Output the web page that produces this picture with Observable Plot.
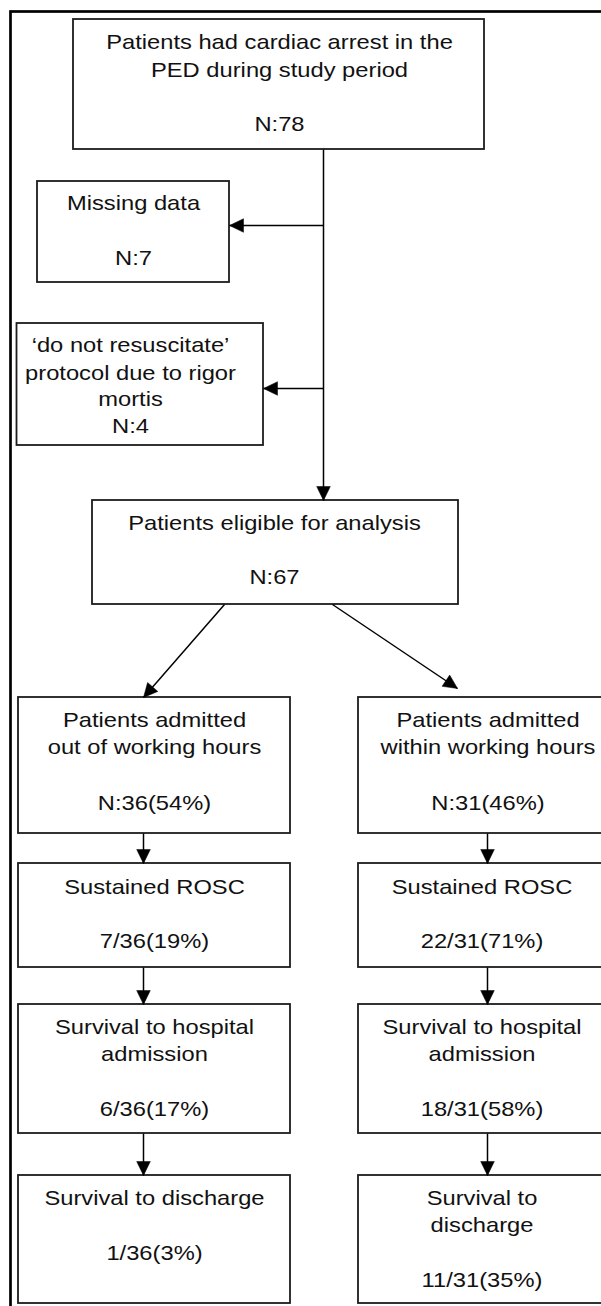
<!DOCTYPE html>
<html>
<head>
<meta charset="utf-8">
<script src="https://cdn.jsdelivr.net/npm/d3@7"></script>
<script src="https://cdn.jsdelivr.net/npm/@observablehq/plot@0.6"></script>
<style>
  html, body { margin: 0; padding: 0; background: #fff; overflow: hidden; width: 601px; height: 1306px; }
  #chart svg { display: block; overflow: hidden; }
</style>
</head>
<body>
<div id="chart"></div>
<script>
// ---- data: flowchart nodes and their values ----
const nodeIds = ["all", "missing", "dnr", "eligible", "out1", "out2", "out3", "out4", "in1", "in2", "in3", "in4"];
const nodeTitles = [
  "Patients had cardiac arrest in the\nPED during study period",
  "Missing data",
  "\u2018do not resuscitate\u2019\nprotocol due to rigor\nmortis",
  "Patients eligible for analysis",
  "Patients admitted\nout of working hours",
  "Sustained ROSC",
  "Survival to hospital\nadmission",
  "Survival to discharge",
  "Patients admitted\nwithin working hours",
  "Sustained ROSC",
  "Survival to hospital\nadmission",
  "Survival to\ndischarge"
];
const nodeCounts = ["N:78", "N:7", "N:4", "N:67", "N:36(54%)", "7/36(19%)", "6/36(17%)", "1/36(3%)", "N:31(46%)", "22/31(71%)", "18/31(58%)", "11/31(35%)"];
const edgeFrom = ["all", "all", "all", "eligible", "eligible", "out1", "out2", "out3", "in1", "in2", "in3"];
const edgeTo   = ["eligible", "missing", "dnr", "out1", "in1", "out2", "out3", "out4", "in2", "in3", "in4"];

// ---- layout (page geometry, kept apart from the data) ----
const layout = {
  all:      {x1: 73,   x2: 484, y1: 19,   y2: 149,  tx: 279,   ty: [41.7, 69.5, 124]},
  missing:  {x1: 37,   x2: 229, y1: 181,  y2: 282,  tx: 133,   ty: [203, 258]},
  dnr:      {x1: 16.5, x2: 263, y1: 323,  y2: 445,  tx: 130,   ty: [345, 372.7, 399, 426]},
  eligible: {x1: 92,   x2: 458, y1: 500,  y2: 604,  tx: 274,   ty: [522.5, 577]},
  out1:     {x1: 18,   x2: 290, y1: 697,  y2: 833,  tx: 154,   ty: [719.5, 746.7, 802.8]},
  out2:     {x1: 18,   x2: 290, y1: 863,  y2: 967,  tx: 154,   ty: [886.5, 940.8]},
  out3:     {x1: 18,   x2: 290, y1: 1004, y2: 1133, tx: 154,   ty: [1026.5, 1053.5, 1109]},
  out4:     {x1: 18,   x2: 290, y1: 1175, y2: 1303, tx: 154,   ty: [1197.5, 1252.5]},
  in1:      {x1: 358,  x2: 617, y1: 697,  y2: 833,  tx: 487.5, ty: [719.5, 746.7, 802.8]},
  in2:      {x1: 358,  x2: 617, y1: 863,  y2: 967,  tx: 481.5, ty: [886.5, 940.8]},
  in3:      {x1: 358,  x2: 617, y1: 1004, y2: 1133, tx: 481.5, ty: [1026.5, 1053.5, 1109]},
  in4:      {x1: 358,  x2: 617, y1: 1175, y2: 1303, tx: 481.5, ty: [1197.5, 1225, 1280]}
};
// connector start point and arrow tip for each edge (same order as edgeFrom/edgeTo)
const edgeLayout = [
  {sx: 323, sy: 149, tx: 323, ty: 500},
  {sx: 323, sy: 225, tx: 229, ty: 225},
  {sx: 323, sy: 388, tx: 263, ty: 388},
  {sx: 224, sy: 604, tx: 143, ty: 697},
  {sx: 332, sy: 604, tx: 457, ty: 688},
  {sx: 143, sy: 833, tx: 143, ty: 863},
  {sx: 143, sy: 967, tx: 143, ty: 1004},
  {sx: 143, sy: 1133, tx: 143, ty: 1175},
  {sx: 487, sy: 833, tx: 487, ty: 863},
  {sx: 487, sy: 967, tx: 487, ty: 1004},
  {sx: 487, sy: 1133, tx: 487, ty: 1175}
];
const frame = [{x1: 10.5, y1: 11.5, x2: 640, y2: 1340}];
const TEXT_STRETCH = 1.13;

// ---- build tables for the marks ----
const boxes = nodeIds.map((id, i) => ({id, ...layout[id]}));
const textLines = [];
nodeIds.forEach((id, i) => {
  const lines = nodeTitles[i].split("\n").concat([nodeCounts[i]]);
  lines.forEach((t, j) => textLines.push({text: t, x: layout[id].tx, y: layout[id].ty[j]}));
});
const edges = edgeFrom.map((f, i) => ({from: f, to: edgeTo[i], ...edgeLayout[i]}));

function headSymbol(dx, dy) {
  const len = Math.hypot(dx, dy), ux = dx / len, uy = dy / len;
  const L = 14, W = 6.8;
  return {
    draw(ctx) {
      ctx.moveTo(0, 0);
      ctx.lineTo(-L * ux - W * uy, -L * uy + W * ux);
      ctx.lineTo(-L * ux + W * uy, -L * uy - W * ux);
      ctx.closePath();
    }
  };
}

const marks = [
  Plot.rect(frame, {x1: "x1", x2: "x2", y1: "y1", y2: "y2", fill: "none", stroke: "#000", strokeWidth: 2.7}),
  Plot.rect(boxes, {x1: "x1", x2: "x2", y1: "y1", y2: "y2", fill: "#fff", stroke: "#1c1c1c", strokeWidth: 1.8}),
  Plot.link(edges, {x1: "sx", y1: "sy", x2: "tx", y2: "ty", stroke: "#000", strokeWidth: 1.5}),
  ...edges.map(e => Plot.dot([e], {x: "tx", y: "ty", r: 5, symbol: headSymbol(e.tx - e.sx, e.ty - e.sy), fill: "#000", stroke: "#000", strokeWidth: 0.5})),
  Plot.text(textLines, {x: "x", y: "y", text: "text", fontSize: 21, fontFamily: "'Liberation Sans', Arial, sans-serif", fill: "#111", textAnchor: "middle", lineAnchor: "middle"})
];

const svg = Plot.plot({
  width: 601,
  height: 1306,
  margin: 0,
  x: {domain: [0, 601], range: [0, 601], axis: null},
  y: {domain: [0, 1306], range: [0, 1306], axis: null},
  style: {background: "#fff", overflow: "hidden"},
  marks
});

// widen the glyphs horizontally about each anchor, as in the reference
svg.querySelectorAll("text").forEach(t => {
  const tr = t.getAttribute("transform");
  if (tr && /translate/.test(tr)) {
    t.setAttribute("transform", tr + ` scale(${TEXT_STRETCH},1)`);
  } else {
    const x = +t.getAttribute("x") || 0, y = +t.getAttribute("y") || 0;
    t.removeAttribute("x"); t.removeAttribute("y");
    t.setAttribute("transform", `${tr || ""} translate(${x},${y}) scale(${TEXT_STRETCH},1)`);
  }
});

document.getElementById("chart").appendChild(svg);
</script>
</body>
</html>
